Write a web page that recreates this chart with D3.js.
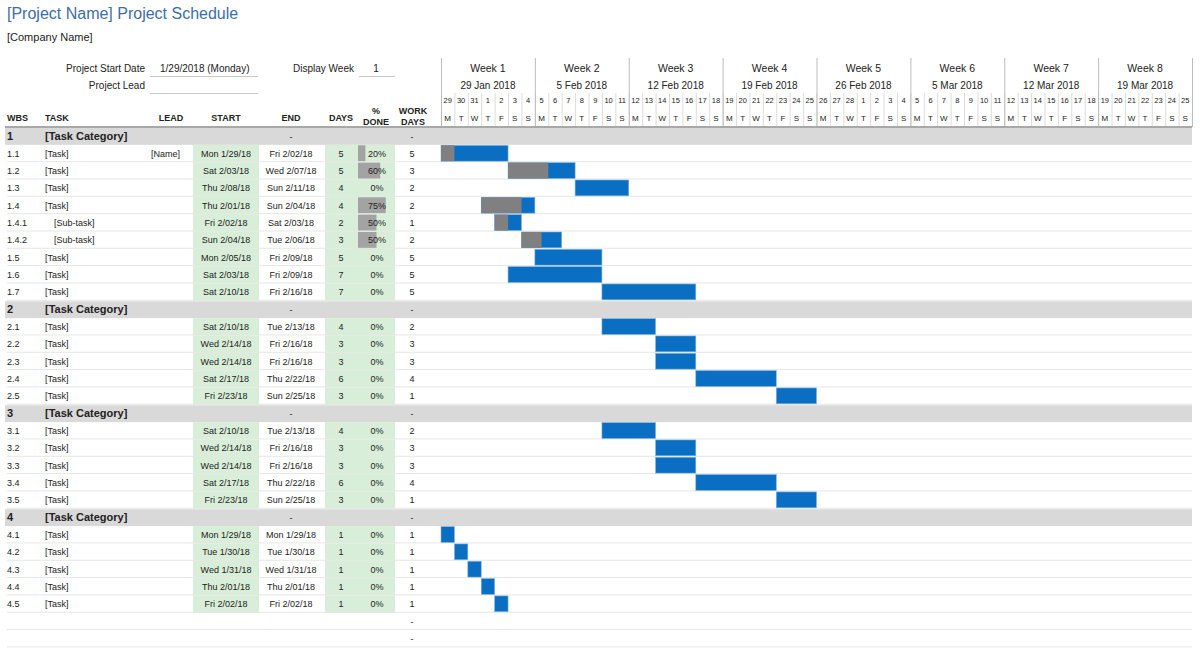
<!DOCTYPE html>
<html>
<head>
<meta charset="utf-8">
<script src="https://cdn.jsdelivr.net/npm/d3@7"></script>
<style>
  body { margin: 0; background: #fff; }
  text { font-family: "Liberation Sans", Arial, sans-serif; fill: #222; }
</style>
</head>
<body>
<script>
const rowKinds = ['cat','task','task','task','task','sub','sub','task','task','task',
  'cat','task','task','task','task','task',
  'cat','task','task','task','task','task',
  'cat','task','task','task','task','task','blank','blank'];
const wbs = ['1','1.1','1.2','1.3','1.4','1.4.1','1.4.2','1.5','1.6','1.7',
  '2','2.1','2.2','2.3','2.4','2.5',
  '3','3.1','3.2','3.3','3.4','3.5',
  '4','4.1','4.2','4.3','4.4','4.5','',''];
const taskNames = ['[Task Category]','[Task]','[Task]','[Task]','[Task]','[Sub-task]','[Sub-task]','[Task]','[Task]','[Task]',
  '[Task Category]','[Task]','[Task]','[Task]','[Task]','[Task]',
  '[Task Category]','[Task]','[Task]','[Task]','[Task]','[Task]',
  '[Task Category]','[Task]','[Task]','[Task]','[Task]','[Task]','',''];
const leads = ['','[Name]'];
const startDates = [null,'2018-01-29','2018-02-03','2018-02-08','2018-02-01','2018-02-02','2018-02-04','2018-02-05','2018-02-03','2018-02-10',
  null,'2018-02-10','2018-02-14','2018-02-14','2018-02-17','2018-02-23',
  null,'2018-02-10','2018-02-14','2018-02-14','2018-02-17','2018-02-23',
  null,'2018-01-29','2018-01-30','2018-01-31','2018-02-01','2018-02-02',null,null];
const endDates = [null,'2018-02-02','2018-02-07','2018-02-11','2018-02-04','2018-02-03','2018-02-06','2018-02-09','2018-02-09','2018-02-16',
  null,'2018-02-13','2018-02-16','2018-02-16','2018-02-22','2018-02-25',
  null,'2018-02-13','2018-02-16','2018-02-16','2018-02-22','2018-02-25',
  null,'2018-01-29','2018-01-30','2018-01-31','2018-02-01','2018-02-02',null,null];
const durations = [null,5,5,4,4,2,3,5,7,7, null,4,3,3,6,3, null,4,3,3,6,3, null,1,1,1,1,1,null,null];
const pctDone = [null,20,60,0,75,50,50,0,0,0, null,0,0,0,0,0, null,0,0,0,0,0, null,0,0,0,0,0,null,null];
const workDays = ['-',5,3,2,2,1,2,5,5,5, '-',2,3,3,4,1, '-',2,3,3,4,1, '-',1,1,1,1,1,'-','-'];
const weekLabels = ['Week 1','Week 2','Week 3','Week 4','Week 5','Week 6','Week 7','Week 8'];
const weekDates = ['29 Jan 2018','5 Feb 2018','12 Feb 2018','19 Feb 2018','26 Feb 2018','5 Mar 2018','12 Mar 2018','19 Mar 2018'];
const dayLetters = ['S','M','T','W','T','F','S'];

const W = 1200, H = 654;
const parse = d3.timeParse('%Y-%m-%d');
const fmtDate = d3.timeFormat('%a %-m/%d/%y');

const svg = d3.select('body').append('svg').attr('width', W).attr('height', H);

const ganttStart = parse('2018-01-29'), ganttEnd = parse('2018-03-26');
const x = d3.scaleTime().domain([ganttStart, ganttEnd]).range([441, 1192]);
const rowH = 17.33, top0 = 127.5;
const y = d3.scaleBand().domain(d3.range(rowKinds.length)).range([top0, top0 + rowH * rowKinds.length]).padding(0);

// column centers
const col = { wbs: 7, task: 45, sub: 54, lead: 171, leadR: 180, start: 226, end: 291, days: 341, pct: 376, work: 412 };

// ---- title block ----
svg.append('text').attr('x', 7).attr('y', 19).style('font-size', '16px').style('fill', '#3d6ea6')
  .text('[Project Name] Project Schedule');
svg.append('text').attr('x', 7).attr('y', 41).style('font-size', '11px').text('[Company Name]');

const info = svg.append('g').style('font-size', '10px');
info.append('text').attr('x', 145).attr('y', 72).attr('text-anchor', 'end').text('Project Start Date');
info.append('text').attr('x', 160).attr('y', 72).text('1/29/2018 (Monday)');
info.append('text').attr('x', 145).attr('y', 89).attr('text-anchor', 'end').text('Project Lead');
info.append('text').attr('x', 354).attr('y', 72).attr('text-anchor', 'end').text('Display Week');
info.append('text').attr('x', 376).attr('y', 72).attr('text-anchor', 'middle').text('1');
[[150, 258, 76.5], [150, 258, 93.5], [359, 395, 76.5]].forEach(([a, b, yy]) => {
  info.append('line').attr('x1', a).attr('x2', b).attr('y1', yy).attr('y2', yy)
    .style('stroke', '#c8c8c8').style('stroke-width', 1);
});

// ---- column headers ----
const hdr = svg.append('g').style('font-size', '9px').style('font-weight', 'bold');
hdr.append('text').attr('x', col.wbs).attr('y', 121).text('WBS');
hdr.append('text').attr('x', col.task).attr('y', 121).text('TASK');
[['LEAD', col.lead], ['START', col.start], ['END', col.end], ['DAYS', col.days]].forEach(([t, cx]) => {
  hdr.append('text').attr('x', cx).attr('y', 121).attr('text-anchor', 'middle').text(t);
});
hdr.append('text').attr('x', col.pct).attr('y', 114).attr('text-anchor', 'middle').text('%');
hdr.append('text').attr('x', col.pct).attr('y', 125).attr('text-anchor', 'middle').text('DONE');
hdr.append('text').attr('x', col.work + 1).attr('y', 114).attr('text-anchor', 'middle').text('WORK');
hdr.append('text').attr('x', col.work + 1).attr('y', 125).attr('text-anchor', 'middle').text('DAYS');

// ---- gantt header ----
const weeks = d3.timeMonday.range(ganttStart, ganttEnd);
const days = d3.timeDay.range(ganttStart, ganttEnd);
const gh = svg.append('g');
gh.selectAll('line.day').data(days).join('line').attr('class', 'day')
  .attr('x1', d => x(d) + 0.5).attr('x2', d => x(d) + 0.5).attr('y1', 93).attr('y2', 127)
  .style('stroke', '#dcdcdc');
gh.selectAll('line.week').data(weeks.concat([ganttEnd])).join('line').attr('class', 'week')
  .attr('x1', d => x(d) + 0.5).attr('x2', d => x(d) + 0.5).attr('y1', 58).attr('y2', 127)
  .style('stroke', '#bdbdbd');
gh.selectAll('text.wk').data(weeks).join('text').attr('class', 'wk')
  .attr('x', (d, i) => (x(d) + x(d3.timeDay.offset(d, 7))) / 2).attr('y', 72)
  .attr('text-anchor', 'middle').style('font-size', '10.5px').text((d, i) => weekLabels[i]);
gh.selectAll('text.wd').data(weeks).join('text').attr('class', 'wd')
  .attr('x', (d, i) => (x(d) + x(d3.timeDay.offset(d, 7))) / 2).attr('y', 89)
  .attr('text-anchor', 'middle').style('font-size', '10px').text((d, i) => weekDates[i]);
gh.selectAll('text.dn').data(days).join('text').attr('class', 'dn')
  .attr('x', d => (x(d) + x(d3.timeDay.offset(d, 1))) / 2).attr('y', 103)
  .attr('text-anchor', 'middle').style('font-size', '7.5px').text(d => d.getDate());
gh.selectAll('text.dl').data(days).join('text').attr('class', 'dl')
  .attr('x', d => (x(d) + x(d3.timeDay.offset(d, 1))) / 2).attr('y', 120.5)
  .attr('text-anchor', 'middle').style('font-size', '8px').text(d => dayLetters[d.getDay()]);

// header bottom rule
svg.append('rect').attr('x', 5).attr('y', 126).attr('width', 1187).attr('height', 2).style('fill', '#a8a8a8');

// ---- rows ----
const rows = rowKinds.map((k, i) => ({
  i, kind: k, wbs: wbs[i], name: taskNames[i], lead: leads[i] || '',
  start: startDates[i] ? parse(startDates[i]) : null,
  end: endDates[i] ? parse(endDates[i]) : null,
  dur: durations[i], pct: pctDone[i], work: workDays[i]
}));

const body = svg.append('g');
const rg = body.selectAll('g.row').data(rows).join('g').attr('class', 'row')
  .attr('transform', d => `translate(0,${y(d.i)})`);

// backgrounds
rg.filter(d => d.kind === 'cat').append('rect')
  .attr('x', 5).attr('y', 0.5).attr('width', 1187).attr('height', rowH - 0.5).style('fill', '#d9d9d9');
const tr = rg.filter(d => d.kind === 'task' || d.kind === 'sub');
tr.append('rect').attr('x', 193).attr('y', 0).attr('width', 66).attr('height', rowH).style('fill', '#d9eed9');
tr.append('rect').attr('x', 325).attr('y', 0).attr('width', 70).attr('height', rowH).style('fill', '#d9eed9');
const pctScale = d3.scaleLinear().domain([0, 100]).range([0, 37]);
tr.append('rect').attr('x', 358).attr('y', 0.5).attr('width', d => pctScale(d.pct)).attr('height', rowH - 1)
  .style('fill', '#a3a3a3');

// separators
rg.filter(d => d.kind !== 'cat').append('line')
  .attr('x1', 7).attr('x2', 1192).attr('y1', rowH - 0.5).attr('y2', rowH - 0.5)
  .style('stroke', '#e6e6e6');

// category text
const cr = rg.filter(d => d.kind === 'cat');
cr.append('text').attr('x', col.wbs).attr('y', 12.5).style('font-size', '11px').style('font-weight', 'bold').text(d => d.wbs);
cr.append('text').attr('x', col.task).attr('y', 12.5).style('font-size', '11px').style('font-weight', 'bold').text(d => d.name);
cr.append('text').attr('x', col.end).attr('y', 12).attr('text-anchor', 'middle').style('font-size', '9px').text('-');
cr.append('text').attr('x', col.work).attr('y', 12).attr('text-anchor', 'middle').style('font-size', '9px').text('-');

// task text
const tt = tr.append('g').style('font-size', '9px');
tt.append('text').attr('x', col.wbs).attr('y', 12).text(d => d.wbs);
tt.append('text').attr('x', d => d.kind === 'sub' ? col.sub : col.task).attr('y', 12).text(d => d.name);
tt.append('text').attr('x', col.leadR).attr('y', 12).attr('text-anchor', 'end').text(d => d.lead);
tt.append('text').attr('x', col.start).attr('y', 12).attr('text-anchor', 'middle').text(d => fmtDate(d.start));
tt.append('text').attr('x', col.end).attr('y', 12).attr('text-anchor', 'middle').text(d => fmtDate(d.end));
tt.append('text').attr('x', col.days).attr('y', 12).attr('text-anchor', 'middle').text(d => d.dur);
tt.append('text').attr('x', col.pct + 1).attr('y', 12).attr('text-anchor', 'middle').text(d => d.pct + '%');
tt.append('text').attr('x', col.work).attr('y', 12).attr('text-anchor', 'middle').text(d => d.work);

rg.filter(d => d.kind === 'blank').append('text').attr('x', col.work).attr('y', 12)
  .attr('text-anchor', 'middle').style('font-size', '9px').text('-');

// gantt bars
tr.append('rect').attr('class', 'bar')
  .attr('x', d => x(d.start)).attr('y', 0.5)
  .attr('width', d => x(d3.timeDay.offset(d.end, 1)) - x(d.start)).attr('height', rowH - 1.5)
  .style('fill', '#0a6fc2').style('stroke', '#7fb2e0').style('stroke-width', 0.6);
tr.filter(d => d.pct > 0).append('rect').attr('class', 'done')
  .attr('x', d => x(d.start)).attr('y', 0.5)
  .attr('width', d => (x(d3.timeDay.offset(d.end, 1)) - x(d.start)) * d.pct / 100).attr('height', rowH - 1.5)
  .style('fill', '#808080');
</script>
</body>
</html>
